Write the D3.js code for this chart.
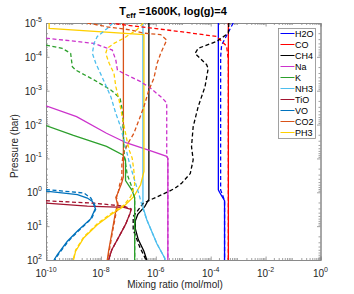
<!DOCTYPE html>
<html>
<head>
<meta charset="utf-8">
<script src="https://cdn.jsdelivr.net/npm/d3@7"></script>
<style>
  body { margin: 0; background: #fff; }
  text { font-family: 'Liberation Sans', Arial, sans-serif; fill: #262626; }
</style>
</head>
<body>
<div id="chart"></div>
<script>
// species in legend order
const species = ['H2O', 'CO', 'CH4', 'Na', 'K', 'NH3', 'TiO', 'VO', 'CO2', 'PH3']
const colors = ['#0000ff', '#ff0000', '#000000', '#cc33cc', '#2ca02c', '#4dbeee', '#a2142f', '#0072bd', '#d95319', '#ffd000']

const xTicks = [1e-10, 1e-8, 1e-6, 1e-4, 1e-2, 1]
const yTicks = [1e-5, 1e-4, 1e-3, 1e-2, 1e-1, 1, 10, 100]

// [mixing ratio, pressure (bar)]
const h2oSolid = [[1.9e-4, 1e-5], [1.9e-4, 0.85], [2.1e-4, 1.0], [3.2e-4, 1.78], [3.2e-4, 100]]
const h2oDashed = [[6.6e-4, 1e-5], [2.5e-4, 4.5e-5], [2.3e-4, 1e-4], [2.3e-4, 0.85], [2.6e-4, 1.1], [3.2e-4, 1.78], [3.2e-4, 100]]

const coSolid = [[4.4e-4, 1e-5], [4.4e-4, 100]]
const coDashed = [[2.0e-8, 1e-5], [8.1e-6, 1.8e-5], [1.66e-4, 2.5e-5], [3.8e-4, 4.8e-5], [4.4e-4, 1.26e-4], [4.4e-4, 100]]

const ch4Solid = [[5.6e-7, 1e-5], [5.6e-7, 1.6], [4.0e-7, 2.6], [2.2e-7, 4.5], [1.8e-7, 7], [1.8e-7, 12], [2.3e-7, 25], [3.7e-7, 55], [4.7e-7, 100]]
const ch4Dashed = [[4.6e-4, 1e-5], [4.4e-4, 2.0e-5], [1.66e-4, 3.5e-5], [3.5e-5, 5.6e-5], [2.7e-5, 7.9e-5], [7.1e-5, 1.7e-4],
  [8.1e-5, 2.2e-4], [6.2e-5, 7.6e-4], [3.5e-5, 2.95e-3], [2.3e-5, 0.0115], [2.0e-5, 0.045], [2.3e-5, 0.11], [1.8e-5, 0.28],
  [8.7e-6, 0.54], [5.0e-6, 0.76], [2.9e-6, 0.95], [3.5e-7, 2.1], [1.5e-7, 5.2], [1.5e-7, 12.9], [2.6e-7, 41], [4.4e-7, 100]]

const naSolid = [[1e-10, 2.8e-3], [1.3e-9, 5.8e-3], [1.6e-8, 0.018], [8.7e-8, 0.035], [6.2e-7, 0.059], [2.5e-6, 0.087], [2.75e-6, 0.1], [2.75e-6, 100]]
const naDashed = [[1e-10, 2.8e-5], [5.6e-9, 4.0e-5], [2.6e-8, 6.3e-5], [3.5e-8, 1.26e-4], [4.0e-8, 2.45e-4], [6.9e-8, 3.1e-4],
  [2.8e-7, 5.4e-4], [6.5e-7, 8.5e-4], [1.74e-6, 1.66e-3], [2.5e-6, 2.3e-3], [2.5e-6, 0.087], [2.75e-6, 0.1], [2.75e-6, 100]]

const kSolid = [[1e-10, 0.0107], [1e-9, 0.021], [1.6e-8, 0.044], [6.3e-8, 0.079], [7.9e-8, 0.11], [7.9e-8, 0.45], [1.38e-7, 0.89], [1.7e-7, 1.48], [1.7e-7, 100]]
const kDashed = [[1e-10, 4.5e-5], [3.9e-10, 5.6e-5], [7.9e-10, 7.9e-5], [9.1e-10, 1.95e-4], [1.2e-9, 2.45e-4], [5.6e-9, 4.8e-4],
  [2.3e-8, 9.5e-4], [5.0e-8, 1.66e-3], [6.0e-8, 3.7e-3], [6.6e-8, 0.018], [7.1e-8, 0.08], [9.1e-8, 0.30], [1.38e-7, 0.74], [1.7e-7, 1.48], [1.7e-7, 100]]

const nh3Solid = [[3.4e-7, 1e-5], [3.4e-7, 2.7], [4.7e-7, 6.5], [7.0e-7, 14], [1.1e-6, 33], [2.1e-6, 87], [2.2e-6, 100]]
const nh3Dashed = [[2.75e-8, 1e-5], [1.7e-8, 1.45e-5], [7.4e-9, 2.5e-5], [5.6e-9, 4.0e-5], [4.9e-9, 7.9e-5], [6.5e-9, 1.55e-4],
  [1.1e-8, 3.9e-4], [2.3e-8, 1.5e-3], [3.5e-8, 4.7e-3], [5.2e-8, 0.0115], [6.9e-8, 0.029], [1.05e-7, 0.12], [1.6e-7, 0.38],
  [2.45e-7, 1.17], [3.2e-7, 2.6], [4.7e-7, 6.5], [7.0e-7, 14], [1.1e-6, 33], [2.1e-6, 87], [2.2e-6, 100]]

const tioSolid = [[1e-10, 2.1], [3.2e-9, 2.57], [6.9e-8, 2.8], [1.26e-7, 3.2], [1.15e-7, 4.2], [7.9e-8, 8.9], [5.0e-8, 17.8], [2.5e-8, 50], [1.9e-8, 100]]
const tioDashed = [[1e-10, 1.78], [5.6e-9, 2.1], [6.9e-8, 2.57], [1.26e-7, 3.1], [1.15e-7, 4.2], [7.9e-8, 8.9], [5.0e-8, 17.8], [2.5e-8, 50], [1.9e-8, 100]]

const voSolid = [[1e-10, 0.93], [1.4e-9, 1.17], [3.2e-9, 1.48], [4.9e-9, 1.86], [6.3e-9, 3.0], [4.3e-9, 6], [1.4e-9, 14], [6.0e-10, 28], [2.6e-10, 69], [1.95e-10, 100]]
const voDashed = [[1e-10, 0.83], [2.4e-9, 1.05], [4.3e-9, 1.48], [5.6e-9, 2.1], [6.6e-9, 3.0], [4.6e-9, 6], [1.5e-9, 14], [6.5e-10, 28], [2.8e-10, 69], [2.1e-10, 100]]

const co2Solid = [[6.6e-8, 1e-5], [6.6e-8, 0.35], [5.6e-8, 0.56], [4.0e-8, 1.12], [3.5e-8, 1.41], [4.0e-8, 2.24], [3.3e-8, 4.5], [2.5e-8, 15.8], [1.9e-8, 56], [1.7e-8, 100]]
const co2Dashed = [[3.2e-9, 1e-5], [1.7e-8, 1.3e-5], [1.23e-7, 1.6e-5], [3.7e-7, 2.0e-5], [1.5e-6, 2.2e-5], [2.5e-6, 3.2e-5],
  [1.5e-6, 7.9e-5], [1.12e-6, 1.55e-4], [8.5e-7, 4.3e-4], [5.6e-7, 9.5e-4], [3.7e-7, 2.95e-3], [2.45e-7, 7.2e-3], [1.6e-7, 0.018],
  [1.05e-7, 0.032], [6.6e-8, 0.07], [5.8e-8, 0.15], [5.8e-8, 0.38], [4.8e-8, 0.6], [4.2e-8, 1.1], [3.7e-8, 1.41], [4.2e-8, 2.24],
  [3.5e-8, 4.5], [2.6e-8, 15.8], [2.0e-8, 56], [1.8e-8, 100]]

const ph3Solid = [[1.3e-10, 1e-5], [1.3e-10, 1.45e-5], [3.7e-7, 2.2e-5], [3.7e-7, 0.24], [2.8e-7, 0.6], [1.6e-7, 1.32], [6.9e-8, 2.57],
  [2.3e-8, 4.6], [7.4e-9, 9.1], [2.4e-9, 22], [1.2e-9, 55], [1.0e-9, 100]]
const ph3Dashed = [[3.5e-7, 1e-5], [2.0e-7, 1.6e-5], [6.9e-8, 2.8e-5], [3.0e-8, 4.0e-5], [1.7e-8, 5.6e-5], [1.5e-8, 7.9e-5], [2.0e-8, 1.55e-4],
  [3.0e-8, 3.1e-4], [3.5e-8, 7.6e-4], [4.6e-8, 1.9e-3], [6.0e-8, 5.9e-3], [7.9e-8, 0.018], [9.1e-8, 0.032], [1.1e-7, 0.06],
  [1.38e-7, 0.098], [1.6e-7, 0.24], [1.7e-7, 0.6], [1.23e-7, 1.32], [6.9e-8, 2.4], [2.3e-8, 4.3], [7.4e-9, 8.5], [2.4e-9, 20.5], [1.2e-9, 51], [1.0e-9, 93]]

const solids = [h2oSolid, coSolid, ch4Solid, naSolid, kSolid, nh3Solid, tioSolid, voSolid, co2Solid, ph3Solid]
const dashes = [h2oDashed, coDashed, ch4Dashed, naDashed, kDashed, nh3Dashed, tioDashed, voDashed, co2Dashed, ph3Dashed]

const W = 354, H = 294
const margin = {top: 23, right: 33.5, bottom: 34, left: 46}
const width = W - margin.left - margin.right
const height = H - margin.top - margin.bottom

const x = d3.scaleLog().domain([1e-10, 1]).range([0, width])
const y = d3.scaleLog().domain([1e-5, 100]).range([0, height])

const svg = d3.select('#chart').append('svg')
  .attr('width', W).attr('height', H)

svg.append('defs').append('clipPath').attr('id', 'clip')
  .append('rect').attr('width', width).attr('height', height)

const g = svg.append('g').attr('transform', `translate(${margin.left},${margin.top})`)

// minor ticks: 2..9 of each decade
const minorX = []
for (let e = -10; e < 0; e++) for (let m = 2; m <= 9; m++) minorX.push(m * Math.pow(10, e))
const minorY = []
for (let e = -5; e < 2; e++) for (let m = 2; m <= 9; m++) minorY.push(m * Math.pow(10, e))

function tickAxis(axis, scale, values, size) {
  return axis(scale).tickValues(values).tickSize(size).tickFormat('')
}

const axes = g.append('g').attr('class', 'axes')
axes.append('g').attr('transform', `translate(0,${height})`).call(tickAxis(d3.axisBottom, x, xTicks, -3.5))
axes.append('g').attr('transform', `translate(0,${height})`).call(tickAxis(d3.axisBottom, x, minorX, -2))
axes.append('g').call(tickAxis(d3.axisTop, x, xTicks, -3.5))
axes.append('g').call(tickAxis(d3.axisTop, x, minorX, -2))
axes.append('g').call(tickAxis(d3.axisLeft, y, yTicks, -3.5))
axes.append('g').call(tickAxis(d3.axisLeft, y, minorY, -2))
axes.append('g').attr('transform', `translate(${width},0)`).call(tickAxis(d3.axisRight, y, yTicks, -3.5))
axes.append('g').attr('transform', `translate(${width},0)`).call(tickAxis(d3.axisRight, y, minorY, -2))
axes.selectAll('path.domain').attr('stroke', '#8a8a8a').attr('stroke-width', 1)
axes.selectAll('.tick line').attr('stroke', '#8a8a8a').attr('stroke-width', 0.8)

// curves
const line = d3.line().x(d => x(d[0])).y(d => y(d[1]))
const plot = g.append('g').attr('clip-path', 'url(#clip)')
species.forEach((s, i) => {
  plot.append('path').datum(solids[i])
    .attr('fill', 'none').attr('stroke', colors[i]).attr('stroke-width', 1.3)
    .attr('d', line)
})
species.forEach((s, i) => {
  plot.append('path').datum(dashes[i])
    .attr('fill', 'none').attr('stroke', colors[i]).attr('stroke-width', 1.3)
    .attr('stroke-dasharray', '4,2.5')
    .attr('d', line)
})

// tick labels
const expo = v => Math.round(Math.log10(v))
g.selectAll('.xlab').data(xTicks).enter().append('text')
  .attr('class', 'xlab')
  .attr('x', d => x(d)).attr('y', height + 17)
  .attr('text-anchor', 'middle').style('font-size', '10px')
  .each(function(d) {
    const t = d3.select(this)
    t.append('tspan').text('10')
    t.append('tspan').attr('dy', -5).style('font-size', '7px').text(expo(d))
  })
g.selectAll('.ylab').data(yTicks).enter().append('text')
  .attr('class', 'ylab')
  .attr('x', -4).attr('y', d => y(d) + 4)
  .attr('text-anchor', 'end').style('font-size', '10px')
  .each(function(d) {
    const t = d3.select(this)
    t.append('tspan').text('10')
    t.append('tspan').attr('dy', -5).style('font-size', '7px').text(expo(d))
  })

// axis titles
svg.append('text')
  .attr('x', 175).attr('y', 288)
  .attr('text-anchor', 'middle').style('font-size', '10px')
  .text('Mixing ratio (mol/mol)')
svg.append('text')
  .attr('transform', 'translate(18,146) rotate(-90)')
  .attr('text-anchor', 'middle').style('font-size', '10px')
  .text('Pressure (bar)')

const title = svg.append('text')
  .attr('x', 173).attr('y', 15)
  .attr('text-anchor', 'middle').style('font-size', '11px').style('font-weight', 'bold')
  .style('fill', '#000')
title.append('tspan').text('T')
title.append('tspan').attr('dy', 3).style('font-size', '8px').text('eff')
title.append('tspan').attr('dy', -3).text(' =1600K, log(g)=4')

// legend
const legend = svg.append('g').attr('transform', 'translate(278.5,28.5)')
legend.append('rect')
  .attr('width', 37).attr('height', 110)
  .attr('fill', '#fff').attr('stroke', '#8a8a8a').attr('stroke-width', 0.8)
const item = legend.selectAll('.item').data(species).enter().append('g')
  .attr('transform', (d, i) => `translate(0,${5 + i * 11})`)
item.append('line')
  .attr('x1', 2).attr('x2', 16)
  .attr('stroke', (d, i) => colors[i]).attr('stroke-width', 1)
item.append('text')
  .attr('x', 16.5).attr('y', 3.3)
  .style('font-size', '9px').style('fill', '#000')
  .text(d => d)
</script>
</body>
</html>
